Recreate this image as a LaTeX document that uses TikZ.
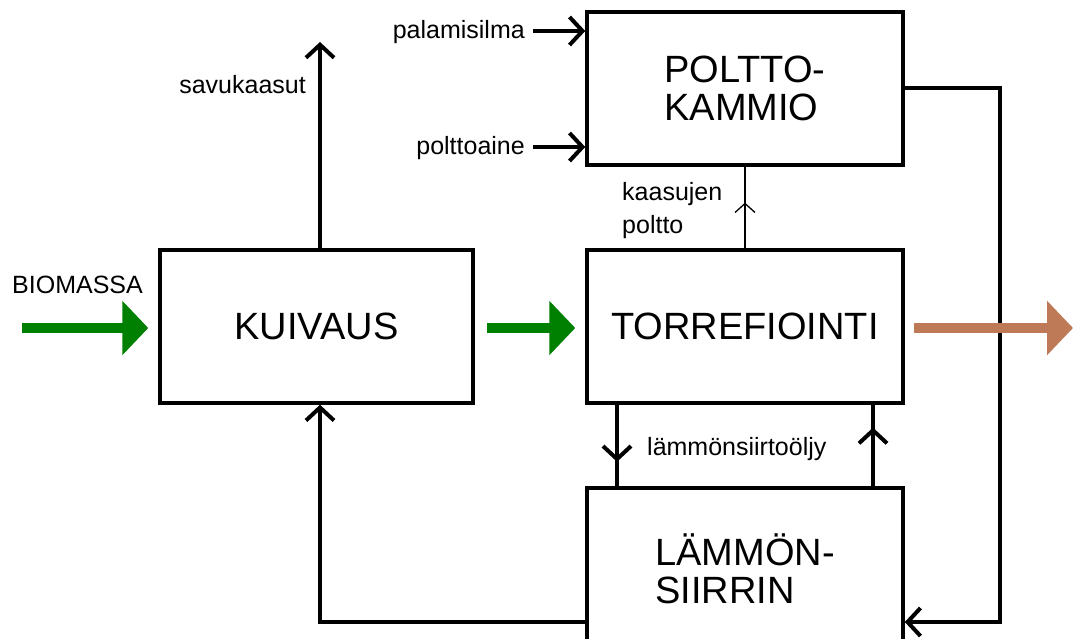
\documentclass[tikz,border=0pt]{standalone}
\usepackage{fontspec}
\setmainfont{Liberation Sans}
\usetikzlibrary{arrows.meta,decorations.markings,calc}
\definecolor{flowgreen}{RGB}{0,128,0}
\definecolor{flowbrown}{RGB}{190,122,86}
\tikzset{
  box/.style={draw=black, line width=3.5pt, fill=white, minimum width=316pt, minimum height=153pt, inner sep=0pt, font=\fontsize{38}{38}\selectfont, align=left},
  small/.style={inner sep=0pt, font=\fontsize{25}{33}\selectfont, text=black},
  flow/.style={line width=4pt, -{Straight Barb[length=13pt,width=28pt,line width=4pt]}},
  midflow/.style={line width=#1, postaction={decorate}},
  bigarrow/.style={line width=10pt, -{Triangle[length=26pt,width=53pt]}},
}
\begin{document}
\begin{tikzpicture}[x=1pt,y=-1pt]
\useasboundingbox (0,0) rectangle (1073,638);
\clip (0,0) rectangle (1073,638);
\fill[white] (0,0) rectangle (1073,638);

% boxes
\node[box] (poltto) at (745,88.5) {POLTTO-\\KAMMIO};
\node[box, minimum width=313pt] (kuiv) at (316.5,326.5) {KUIVAUS};
\node[box] (torre) at (745,326.5) {TORREFIOINTI};
\node[box, minimum height=162pt] (lam) at (745,569) {LÄMMÖN-\\SIIRRIN};

% labels
\node[small, anchor=base east] (savu) at (306,93) {savukaasut};
\node[small, anchor=base east] (pal) at (525,38) {palamisilma};
\node[small, anchor=base east] (pol) at (525,154) {polttoaine};
\node[small, anchor=base west, align=left] (kaa) at (622,233) {kaasujen\\poltto};
\node[small, anchor=base west] (oil) at (647,455) {lämmönsiirtoöljy};
\node[small, anchor=base west] (bio) at (12,293) {BIOMASSA};

% coordinates
\coordinate (savutop) at (320,42);
\coordinate (palL) at (533,31);
\coordinate (polL) at (533,147);
\coordinate (loopTR) at (1000,88);
\coordinate (loopBR) at (1000,622);
\coordinate (loopBL) at (320,622);
\coordinate (bioL) at (22,328);
\coordinate (outR) at (1073,328);

% black connectors
\draw[flow] (kuiv.north -| savutop) -- (savutop);
\draw[flow] (palL) -- (poltto.west |- palL);
\draw[flow] (polL) -- (poltto.west |- polL);
\draw[flow] (poltto.east |- loopTR) -- (loopTR) -- (loopBR) -- (lam.east |- loopBR);
\draw[flow] (lam.west |- loopBR) -- (loopBL) -- (kuiv.south -| loopBL);

\draw[midflow=1.3pt, decoration={markings, mark=at position 0.56 with {\arrow{Straight Barb[length=9pt,width=20pt,line width=1.3pt]}}}]
  (torre.north) -- (poltto.south);
\draw[midflow=4pt, decoration={markings, mark=at position 0.70 with {\arrow{Straight Barb[length=13pt,width=28pt,line width=4pt]}}}]
  (torre.south -| 617,0) -- (lam.north -| 617,0);
\draw[midflow=4pt, decoration={markings, mark=at position 0.72 with {\arrow{Straight Barb[length=13pt,width=28pt,line width=4pt]}}}]
  (lam.north -| 873,0) -- (torre.south -| 873,0);

% thick coloured arrows
\draw[bigarrow, flowgreen, shorten >=10pt] (bioL) -- (kuiv.west |- bioL);
\draw[bigarrow, flowgreen, shorten <=12pt, shorten >=10pt] (kuiv.east |- bioL) -- (torre.west |- bioL);
\draw[bigarrow, flowbrown, shorten <=9pt] (torre.east |- outR) -- (outR);
\end{tikzpicture}
\end{document}
